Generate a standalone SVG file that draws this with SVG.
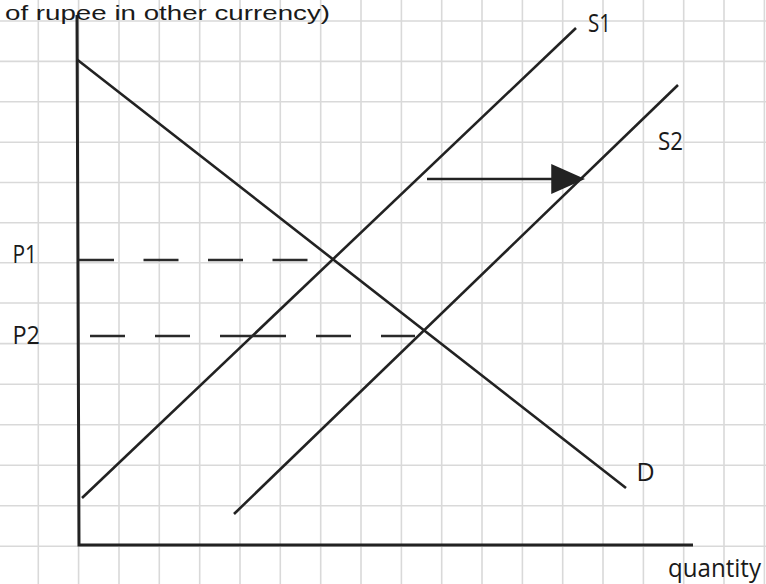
<svg xmlns="http://www.w3.org/2000/svg" width="766" height="584" viewBox="0 0 766 584">
<style>
.grid line{stroke:#d9d9d9;stroke-width:1.6}
.ln{stroke:#222;stroke-width:2.6;fill:none;stroke-linecap:butt}
.ax{stroke:#222;stroke-width:3;fill:none}
.dash{stroke:#2a2a2a;stroke-width:2.6;fill:none}
.t{font-family:"Open Sans","Liberation Sans",sans-serif;font-size:25px;fill:#1a1a1a}
.top{font-family:"Liberation Sans",Arial,sans-serif;font-size:21px;fill:#1a1a1a}
</style>
<defs>
<marker id="ah" markerUnits="userSpaceOnUse" markerWidth="40" markerHeight="40" viewBox="-5 -14 32 28" refX="0" refY="0" orient="auto">
<path d="M-3,-12 L24,0 L-3,12 z" fill="#222"/>
</marker>
</defs>
<rect width="766" height="584" fill="#fff"/>
<g class="grid" id="grid">
<line x1="38.3" y1="0" x2="38.3" y2="584"/>
<line x1="78.6" y1="0" x2="78.6" y2="584"/>
<line x1="119" y1="0" x2="119" y2="584"/>
<line x1="159.3" y1="0" x2="159.3" y2="584"/>
<line x1="199.7" y1="0" x2="199.7" y2="584"/>
<line x1="240" y1="0" x2="240" y2="584"/>
<line x1="280.3" y1="0" x2="280.3" y2="584"/>
<line x1="320.7" y1="0" x2="320.7" y2="584"/>
<line x1="361" y1="0" x2="361" y2="584"/>
<line x1="401.4" y1="0" x2="401.4" y2="584"/>
<line x1="441.7" y1="0" x2="441.7" y2="584"/>
<line x1="482" y1="0" x2="482" y2="584"/>
<line x1="522.4" y1="0" x2="522.4" y2="584"/>
<line x1="562.7" y1="0" x2="562.7" y2="584"/>
<line x1="603" y1="0" x2="603" y2="584"/>
<line x1="643.4" y1="0" x2="643.4" y2="584"/>
<line x1="683.7" y1="0" x2="683.7" y2="584"/>
<line x1="724" y1="0" x2="724" y2="584"/>
<line x1="764.4" y1="0" x2="764.4" y2="584"/>
<line x1="0" y1="21" x2="766" y2="21"/>
<line x1="0" y1="61.4" x2="766" y2="61.4"/>
<line x1="0" y1="101.8" x2="766" y2="101.8"/>
<line x1="0" y1="142.2" x2="766" y2="142.2"/>
<line x1="0" y1="182.5" x2="766" y2="182.5"/>
<line x1="0" y1="222.8" x2="766" y2="222.8"/>
<line x1="0" y1="262.8" x2="766" y2="262.8"/>
<line x1="0" y1="303" x2="766" y2="303"/>
<line x1="0" y1="343.6" x2="766" y2="343.6"/>
<line x1="0" y1="384.2" x2="766" y2="384.2"/>
<line x1="0" y1="424.8" x2="766" y2="424.8"/>
<line x1="0" y1="465.3" x2="766" y2="465.3"/>
<line x1="0" y1="505.8" x2="766" y2="505.8"/>
<line x1="0" y1="546.2" x2="766" y2="546.2"/>
</g>
<g id="axes">
<polyline class="ax" points="77,15 79,545 693,545"/>
</g>
<g id="connectors">
<line id="D" class="ln" x1="77" y1="59.5" x2="626" y2="488"/>
<line id="S1" class="ln" x1="82" y1="498" x2="576" y2="28"/>
<line id="S2" class="ln" x1="234" y1="514" x2="678" y2="85"/>
<path id="P1-line" class="dash" d="M79,260 H114 M143.5,260 H178.5 M208,260 H243 M272.5,260 H307.5"/>
<path id="P2-line" class="dash" d="M90,336 H125 M155,336 H190 M220,336 H286 M316,336 H351 M381,336 H415"/>
<line id="shift" class="ln" x1="427" y1="179" x2="555" y2="179" marker-end="url(#ah)"/>
</g>
<g id="labels">
<text class="top" x="5" y="19.5" textLength="325" lengthAdjust="spacingAndGlyphs">of rupee in other currency)</text>
<g id="lbl-S1"><text class="t" x="588" y="31.5" textLength="23" lengthAdjust="spacingAndGlyphs">S1</text></g>
<g id="lbl-S2"><text class="t" x="658" y="150" textLength="25" lengthAdjust="spacingAndGlyphs">S2</text></g>
<g id="lbl-D"><text class="t" x="636.5" y="481">D</text></g>
<g id="lbl-P1"><text class="t" x="12.5" y="263" textLength="24.5" lengthAdjust="spacingAndGlyphs">P1</text></g>
<g id="lbl-P2"><text class="t" x="12.5" y="344" textLength="27.5" lengthAdjust="spacingAndGlyphs">P2</text></g>
<g id="lbl-q"><text class="t" x="668" y="576.5" textLength="93" lengthAdjust="spacingAndGlyphs">quantity</text></g>
</g>
</svg>
